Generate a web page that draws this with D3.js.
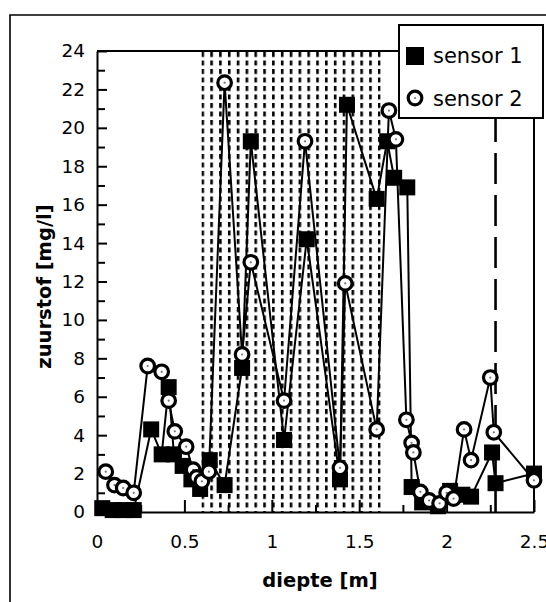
<!DOCTYPE html>
<html>
<head>
<meta charset="utf-8">
<script src="https://cdn.jsdelivr.net/npm/d3@7"></script>
<style>
  body { margin: 0; background: #fff; }
  svg { display: block; }
</style>
</head>
<body>
<svg id="chart"></svg>
<script>
// sensor 1 (filled squares)
const depth1 = [0.03, 0.09, 0.15, 0.21, 0.31, 0.37, 0.41, 0.44, 0.49, 0.54, 0.59, 0.645,
  0.73, 0.83, 0.88, 1.07, 1.2, 1.39, 1.43, 1.6, 1.66, 1.70, 1.775, 1.8, 1.86, 1.95,
  2.02, 2.09, 2.14, 2.26, 2.28, 2.5];
const oxygen1 = [0.2, 0.1, 0.1, 0.1, 4.3, 3.0, 6.5, 3.0, 2.4, 1.7, 1.2, 2.7,
  1.4, 7.5, 19.3, 3.75, 14.2, 1.7, 21.2, 16.3, 19.3, 17.4, 16.9, 1.3, 0.5, 0.3,
  1.1, 0.9, 0.8, 3.1, 1.5, 2.0];

// sensor 2 (open circles)
const depth2 = [0.05, 0.1, 0.15, 0.21, 0.29, 0.37, 0.41, 0.445, 0.51, 0.55, 0.57, 0.6,
  0.64, 0.73, 0.83, 0.88, 1.07, 1.19, 1.39, 1.42, 1.6, 1.67, 1.71, 1.77, 1.8, 1.81,
  1.85, 1.9, 1.96, 2.0, 2.04, 2.1, 2.14, 2.25, 2.27, 2.5];
const oxygen2 = [2.1, 1.4, 1.25, 1.0, 7.6, 7.3, 5.8, 4.2, 3.4, 2.2, 1.8, 1.6,
  2.1, 22.35, 8.2, 13.0, 5.8, 19.3, 2.3, 11.9, 4.3, 20.9, 19.4, 4.8, 3.6, 3.1,
  1.05, 0.6, 0.45, 1.0, 0.7, 4.3, 2.7, 7.0, 4.15, 1.65];

const xTicks = [0, 0.5, 1, 1.5, 2, 2.5];
const xMinorTicks = [0.25, 0.75, 1.25, 1.75, 2.25];
const yTicks = [0, 2, 4, 6, 8, 10, 12, 14, 16, 18, 20, 22, 24];
const yMinorTicks = [1, 3, 5, 7, 9, 11, 13, 15, 17, 19, 21, 23];

const zoneRange = [0.605, 1.615];  // dotted layer
const dashedDepth = 2.28;
const seriesNames = ["sensor 1", "sensor 2"];

const W = 546, H = 602;
const svg = d3.select("#chart").attr("width", W).attr("height", H);

const xScale = d3.scaleLinear().domain([0, 2.5]).range([97, 534]);
const yScale = d3.scaleLinear().domain([0, 24]).range([512, 51]);

const tickFont = "'DejaVu Sans', sans-serif";

// outer frame (left and top only visible)
svg.append("path")
  .attr("d", `M10,${H} L10,15 L${W},15`)
  .attr("fill", "none")
  .attr("stroke", "#000")
  .attr("stroke-width", 1.6);

// dotted zone as a pattern of dashed columns
const zx0 = xScale(zoneRange[0]), zx1 = xScale(zoneRange[1]);
const colStep = (zx1 - zx0) / 20;
const pat = svg.append("defs").append("pattern")
  .attr("id", "dots")
  .attr("patternUnits", "userSpaceOnUse")
  .attr("x", zx0 - 1.3)
  .attr("y", yScale(24) + 1)
  .attr("width", colStep)
  .attr("height", 8.5);
pat.append("rect")
  .attr("x", 0).attr("y", 0)
  .attr("width", 2.6).attr("height", 5)
  .attr("fill", "#000");

svg.append("rect")
  .attr("x", zx0 - 1.3)
  .attr("y", yScale(24) + 1)
  .attr("width", zx1 - zx0 + 2.6)
  .attr("height", yScale(0) - yScale(24) - 1)
  .attr("fill", "url(#dots)");

// dashed marker line
svg.append("line")
  .attr("x1", xScale(dashedDepth)).attr("x2", xScale(dashedDepth))
  .attr("y1", yScale(24)).attr("y2", yScale(0))
  .attr("stroke", "#000")
  .attr("stroke-width", 2.6)
  .attr("stroke-dasharray", "31,11")
  .attr("stroke-dashoffset", 24);

// plot frame: top and right
svg.append("path")
  .attr("d", `M${xScale(0)},${yScale(24)} L${xScale(2.5)},${yScale(24)} L${xScale(2.5)},${yScale(0)}`)
  .attr("fill", "none")
  .attr("stroke", "#000")
  .attr("stroke-width", 2);

// axes
const yAxis = d3.axisLeft(yScale)
  .tickValues(yTicks)
  .tickSize(-10)
  .tickSizeOuter(0)
  .tickPadding(12)
  .tickFormat(d3.format("d"));

const gy = svg.append("g")
  .attr("transform", `translate(${xScale(0)},0)`)
  .call(yAxis);

svg.append("g")
  .attr("transform", `translate(${xScale(0)},0)`)
  .call(d3.axisLeft(yScale).tickValues(yMinorTicks).tickSize(-8).tickSizeOuter(0).tickFormat(""))
  .call(g => g.select(".domain").remove());

const xAxis = d3.axisBottom(xScale)
  .tickValues(xTicks)
  .tickSize(-12)
  .tickSizeOuter(0)
  .tickPadding(23)
  .tickFormat(d => d === 0 ? "0" : String(d));

const gx = svg.append("g")
  .attr("transform", `translate(0,${yScale(0)})`)
  .call(xAxis);

svg.append("g")
  .attr("transform", `translate(0,${yScale(0)})`)
  .call(d3.axisBottom(xScale).tickValues(xMinorTicks).tickSize(-7).tickSizeOuter(0).tickFormat(""))
  .call(g => g.select(".domain").remove());

svg.selectAll(".domain, .tick line")
  .attr("stroke", "#000")
  .attr("stroke-width", 2);

svg.selectAll(".tick text")
  .attr("font-family", tickFont)
  .attr("font-size", 18.5)
  .attr("fill", "#000");

// axis titles
svg.append("text")
  .attr("x", 320)
  .attr("y", 587)
  .attr("text-anchor", "middle")
  .attr("font-family", tickFont)
  .attr("font-weight", "bold")
  .attr("font-size", 19.5)
  .text("diepte [m]");

svg.append("text")
  .attr("transform", `translate(51,${(yScale(0) + yScale(24)) / 2 + 5}) rotate(-90)`)
  .attr("text-anchor", "middle")
  .attr("font-family", tickFont)
  .attr("font-weight", "bold")
  .attr("font-size", 19.5)
  .text("zuurstof [mg/l]");

// series
const pts1 = depth1.map((d, i) => ({ depth: d, value: oxygen1[i] }));
const pts2 = depth2.map((d, i) => ({ depth: d, value: oxygen2[i] }));

const line = d3.line()
  .x(d => xScale(d.depth))
  .y(d => yScale(d.value));

const sq = 16;

svg.append("path")
  .datum(pts1)
  .attr("d", line)
  .attr("fill", "none")
  .attr("stroke", "#000")
  .attr("stroke-width", 2);

svg.selectAll(".sq")
  .data(pts1)
  .join("rect")
  .attr("class", "sq")
  .attr("x", d => xScale(d.depth) - sq / 2)
  .attr("y", d => yScale(d.value) - sq / 2)
  .attr("width", sq)
  .attr("height", sq)
  .attr("fill", "#000");

svg.append("path")
  .datum(pts2)
  .attr("d", line)
  .attr("fill", "none")
  .attr("stroke", "#000")
  .attr("stroke-width", 2);

const circ = svg.selectAll(".circ")
  .data(pts2)
  .join("g")
  .attr("class", "circ")
  .attr("transform", d => `translate(${xScale(d.depth)},${yScale(d.value)})`);

circ.append("circle")
  .attr("r", 6.8)
  .attr("fill", "#fff")
  .attr("stroke", "#000")
  .attr("stroke-width", 3.2);

circ.append("circle")
  .attr("r", 1.1)
  .attr("fill", "#777");

// legend
const leg = svg.append("g");
leg.append("rect")
  .attr("x", 399).attr("y", 25)
  .attr("width", 144).attr("height", 93)
  .attr("fill", "#fff")
  .attr("stroke", "#000")
  .attr("stroke-width", 2);

leg.append("rect")
  .attr("x", 406).attr("y", 47)
  .attr("width", 18).attr("height", 18)
  .attr("fill", "#000");

leg.append("circle")
  .attr("cx", 415).attr("cy", 98)
  .attr("r", 6.8)
  .attr("fill", "#fff")
  .attr("stroke", "#000")
  .attr("stroke-width", 3.2);

leg.append("circle")
  .attr("cx", 415).attr("cy", 98)
  .attr("r", 1.1)
  .attr("fill", "#777");

leg.selectAll(".lt")
  .data(seriesNames)
  .join("text")
  .attr("class", "lt")
  .attr("x", 433)
  .attr("y", (d, i) => 63 + i * 43)
  .attr("font-family", tickFont)
  .attr("font-size", 21)
  .attr("fill", "#000")
  .text(d => d);
</script>
</body>
</html>
